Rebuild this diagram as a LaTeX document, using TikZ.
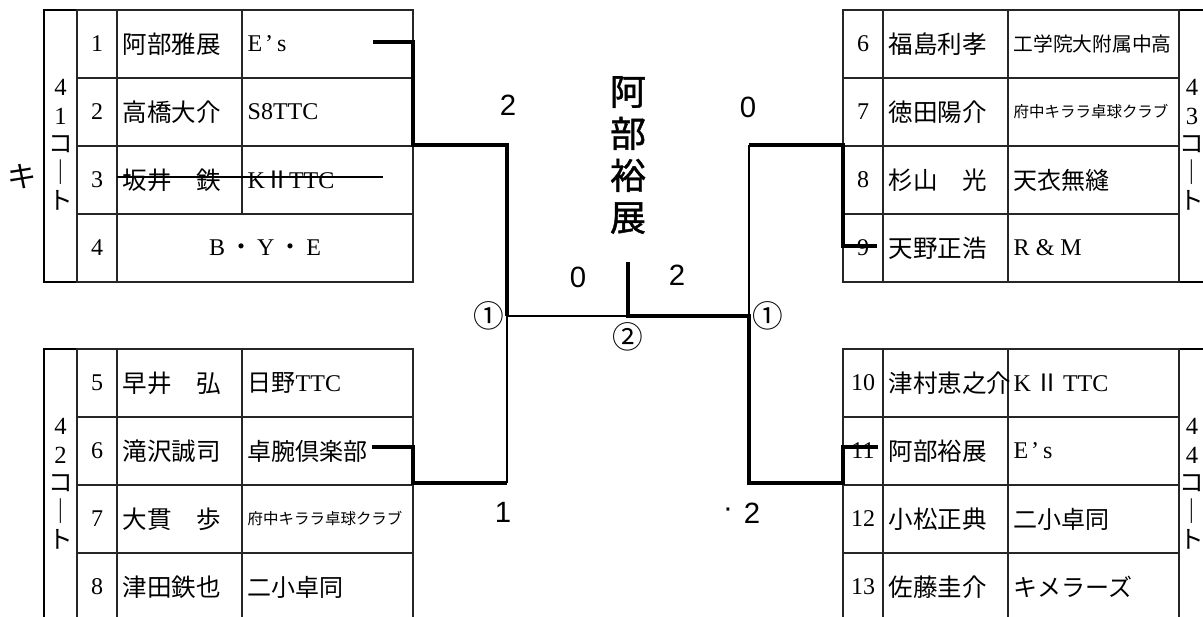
\documentclass[tikz,border=0pt]{standalone}
\usepackage{fontspec}
\setmainfont{Liberation Serif}
\newfontfamily\jpfont{Noto Sans CJK JP}
\newfontfamily\champfont[FakeBold=1.2]{Noto Sans CJK JP}
\newfontfamily\scorefont{Liberation Sans}

\newcommand{\playerrow}[6]{
	\draw[tablerule] (#2, #3) rectangle (#2 + 336, #3 + 68);
	\draw[tablerule] (#2 + 40, #3) -- (#2 + 40, #3 + 68);
	\draw[tablerule] (#2 + 165, #3) -- (#2 + 165, #3 + 68);
	\node[numcell] (#1num) at (#2 + 20, #3 + 34) {#4};
	\node[namecell] (#1name) at (#2 + 40, #3 + 34) {#5};
	\node[clubcell] (#1club) at (#2 + 165, #3 + 34) {#6};
}
\newcommand{\smallclub}[1]{{\jpfont\fontsize{11.6}{14}\selectfont #1}}
\newcommand{\esclub}{E\kern2pt’\kern3pt s}

\begin{document}
\begin{tikzpicture}[x=0.75pt,y=-0.75pt,semithick,
	tablerule/.style={draw=black!85,line width=0.8pt},
	tableframe/.style={draw=black,line width=1.1pt},
	numcell/.style={inner sep=0pt,font=\fontsize{18}{20}\selectfont},
	namecell/.style={anchor=west,inner xsep=4pt,font=\jpfont\fontsize{18.4}{22}\selectfont},
	clubcell/.style={anchor=west,inner xsep=4pt,font=\fontsize{18}{22}\selectfont},
	court/.style={align=center,inner sep=0pt,font=\fontsize{18.5}{21.4}\selectfont},
	champ/.style={align=center,inner sep=0pt,font=\champfont\fontsize{27}{31.5}\selectfont},
	score/.style={inner sep=0pt,font=\scorefont\fontsize{22}{26}\selectfont},
	circled/.style={inner sep=0pt,font=\jpfont\fontsize{23}{26}\selectfont},
	winline/.style={line width=3.4pt,line join=miter},
	loseline/.style={line width=0.9pt},
	strikeline/.style={line width=1.8pt}]
				\useasboundingbox (0,0) rectangle (1203,617);

				% 41 court
				\draw[tableframe] (44,10) rectangle (413,282);
				\playerrow{t1}{77}{10}{1}{阿部雅展}{\esclub}
				\playerrow{t2}{77}{78}{2}{高橋大介}{S8TTC}
				\playerrow{t3}{77}{146}{3}{坂井　鉄}{K{\jpfont Ⅱ}TTC}
				\draw[tablerule] (77,214) rectangle (413,282);
				\draw[tablerule] (117,214) -- (117,282);
				\node[numcell] (t4num) at (97,248) {4};
				\node[clubcell,anchor=center] (t4bye) at (265,248) {B\,{\jpfont ・}\,Y\,{\jpfont ・}\,E};
				\node[court] (court41) at (60.5,145) {4\\1\\{\jpfont コ}\\{\jpfont ｜}\\{\jpfont ト}};
				\node[font=\jpfont\fontsize{22}{26}\selectfont] (ki) at (22,177) {キ};
				\coordinate (x3a) at (117,177);
				\coordinate (x3b) at (383,177);
				\draw[strikeline] (x3a) -- (x3b);

				% 42 court
				\draw[tableframe] (44,349) rectangle (413,625);
				\playerrow{b5}{77}{349}{5}{早井　弘}{{\jpfont 日野}TTC}
				\playerrow{b6}{77}{417}{6}{滝沢誠司}{{\jpfont 卓腕倶楽部}}
				\playerrow{b7}{77}{485}{7}{大貫　歩}{\smallclub{府中キララ卓球クラブ}}
				\playerrow{b8}{77}{553}{8}{津田鉄也}{{\jpfont 二小卓同}}
				\node[court] (court42) at (60.5,484) {4\\2\\{\jpfont コ}\\{\jpfont ｜}\\{\jpfont ト}};

				% 43 court
				\draw[tableframe] (843,10) rectangle (1215,282);
				\playerrow{r6}{843}{10}{6}{福島利孝}{{\jpfont\fontsize{14.8}{18}\selectfont 工学院大附属中高}}
				\playerrow{r7}{843}{78}{7}{徳田陽介}{\smallclub{府中キララ卓球クラブ}}
				\playerrow{r8}{843}{146}{8}{杉山　光}{{\jpfont 天衣無縫}}
				\playerrow{r9}{843}{214}{9}{天野正浩}{R \& M}
				\node[court] (court43) at (1192,145) {4\\3\\{\jpfont コ}\\{\jpfont ｜}\\{\jpfont ト}};

				% 44 court
				\draw[tableframe] (843,349) rectangle (1215,625);
				\playerrow{s10}{843}{349}{10}{津村恵之介}{K\,{\jpfont Ⅱ}\,TTC}
				\playerrow{s11}{843}{417}{11}{阿部裕展}{\esclub}
				\playerrow{s12}{843}{485}{12}{小松正典}{{\jpfont 二小卓同}}
				\playerrow{s13}{843}{553}{13}{佐藤圭介}{{\jpfont キメラーズ}}
				\node[court] (court44) at (1192,484) {4\\4\\{\jpfont コ}\\{\jpfont ｜}\\{\jpfont ト}};

				% winner and scores
				\node[champ] (champ) at (628,155) {阿\\部\\裕\\展};
				\node[score] (sc1a) at (508,105) {2};
				\node[score] (sc1b) at (503,512) {1};
				\node[score] (sc2a) at (748,107) {0};
				\node[score] (sc2b) at (752,513) {2};
				\node[score] (scdot) at (728,513) {·};
				\node[score] (scfl) at (578,277) {0};
				\node[score] (scfr) at (677,275) {2};
				\node[circled] (m1) at (489,316) {①};
				\node[circled] (m2) at (768,316) {①};
				\node[circled] (m3) at (628,337) {②};

				% bracket
				\coordinate (w1) at (373,42);
				\coordinate (e1) at (413,145);
				\coordinate (q1) at (507,316);
				\coordinate (w6) at (372,447);
				\coordinate (e6) at (413,483);
				\coordinate (b1) at (507,483);
				\coordinate (fin) at (628,316);
				\coordinate (top) at (628,262);
				\coordinate (q2) at (749,316);
				\coordinate (w9) at (877,246);
				\coordinate (e9) at (843,145);
				\coordinate (t2) at (749,145);
				\coordinate (w11) at (878,447);
				\coordinate (e11) at (843,483);
				\draw[winline] (w1) -| (e1) -| (q1);
				\draw[winline] (w6) -| (e6) -- (b1);
				\draw[loseline] (b1) -- (q1);
				\draw[loseline] (q1) -- (fin);
				\draw[winline] (w9) -| (e9) -- (t2);
				\draw[loseline] (t2) -- (q2);
				\draw[winline] (w11) -| (e11) -| (q2) -- (fin) -- (top);
			\end{tikzpicture}
\end{document}
